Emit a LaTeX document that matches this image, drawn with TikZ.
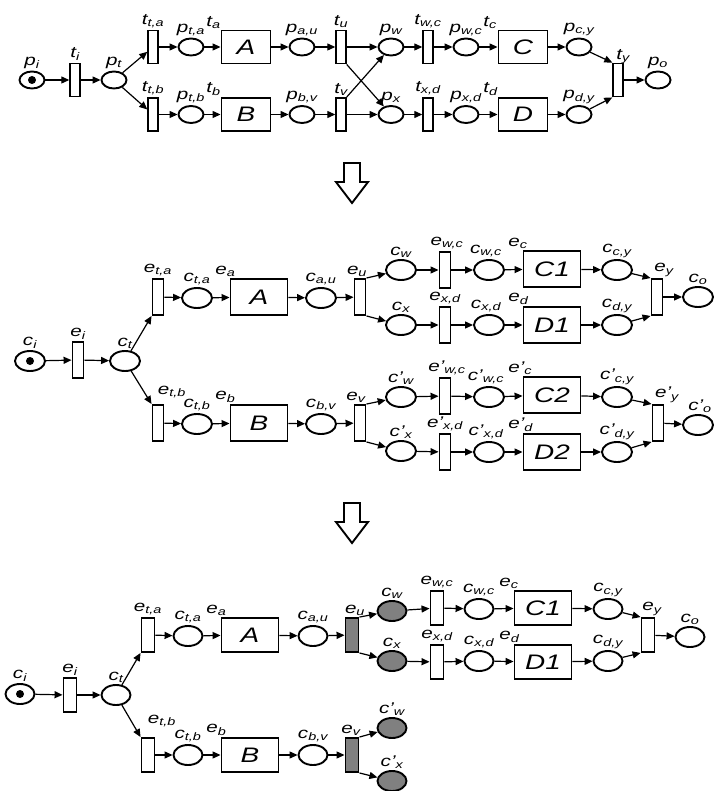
\documentclass[tikz,border=0pt]{standalone}
\usepackage{fontspec}
\setmainfont{Liberation Sans}[FakeStretch=1.33]
\usepackage{tikz}
\usetikzlibrary{arrows.meta, shapes.geometric}

\newcommand{\nm}[2]{#1\textsubscript{#2}}

\tikzset{
    place/.style={draw, ellipse, line width=1.9pt, inner sep=0pt,
        minimum width=25pt, minimum height=17pt},
    trans/.style={draw, rectangle, line width=1.9pt, inner sep=0pt,
        minimum width=9.5pt, minimum height=33pt},
    task/.style={draw, rectangle, line width=1.9pt, inner sep=0pt,
        minimum width=49pt, minimum height=33pt,
        font=\fontsize{21}{21}\selectfont\itshape},
    fired/.style={fill=gray},
    token/.style={path picture={\fill (path picture bounding box.center) circle[radius=4pt];}},
    tlabel/.style={label={[anchor=south west, xshift=-14pt]north west:#1}},
    every label/.style={font=\fontsize{15.5}{15.5}\selectfont\itshape, inner sep=0.5pt},
    arc/.style={->, line width=1.2pt},
}

\begin{document}
\begin{tikzpicture}[x=1pt, y=-1pt, label distance=1pt, >={Triangle[length=8pt,width=7pt]}]
    \useasboundingbox (0,0) rectangle (713,791);

    % First net
    \node[place, token, label={above:\nm{p}{i}}] (pi) at (32,80) {};
    \node[trans, label={above:\nm{t}{i}}] (ti) at (75,80) {};
    \node[place, label={above:\nm{p}{t}}] (pt) at (114,80) {};
    \node[trans, label={above:\nm{t}{t,a}}] (tta) at (153,47) {};
    \node[place, label={above:\nm{p}{t,a}}] (pta) at (191,47) {};
    \node[task, tlabel={\nm{t}{a}}] (ta) at (246,47) {A};
    \node[place, label={above:\nm{p}{a,u}}] (pau) at (302,47) {};
    \node[trans, label={above:\nm{t}{u}}] (tu) at (341,47) {};
    \node[place, label={above:\nm{p}{w}}] (pw) at (391,47) {};
    \node[trans, label={above:\nm{t}{w,c}}] (twc) at (428,47) {};
    \node[place, label={above:\nm{p}{w,c}}] (pwc) at (466,47) {};
    \node[task, tlabel={\nm{t}{c}}] (tc) at (523,47) {C};
    \node[place, label={above:\nm{p}{c,y}}] (pcy) at (579,47) {};
    \node[trans, label={[xshift=5pt, yshift=-3pt]above:\nm{t}{y}}] (ty) at (618,80) {};
    \node[place, label={above:\nm{p}{o}}] (po) at (658,80) {};

    \node[trans, label={above:\nm{t}{t,b}}] (ttb) at (153,114.5) {};
    \node[place, label={above:\nm{p}{t,b}}] (ptb) at (191,114.5) {};
    \node[task, tlabel={\nm{t}{b}}] (tb) at (246,114.5) {B};
    \node[place, label={above:\nm{p}{b,v}}] (pbv) at (302,114.5) {};
    \node[trans, label={above:\nm{t}{v}}] (tv) at (341,114.5) {};
    \node[place, label={above:\nm{p}{x}}] (px) at (391,114.5) {};
    \node[trans, label={above:\nm{t}{x,d}}] (txd) at (428,114.5) {};
    \node[place, label={above:\nm{p}{x,d}}] (pxd) at (466,114.5) {};
    \node[task, tlabel={\nm{t}{d}}] (td) at (523,114.5) {D};
    \node[place, label={above:\nm{p}{d,y}}] (pdy) at (579,114.5) {};

    \foreach \a/\b in {pi/ti, ti/pt, pt/tta, pt/ttb, tta/pta, pta/ta, ta/pau, pau/tu,
            tu/pw, tu.south east/px, tv.north east/pw, tv/px, pw/twc, twc/pwc, pwc/tc,
            tc/pcy, pcy/ty.north west, ty/po, ttb/ptb, ptb/tb, tb/pbv, pbv/tv,
            px/txd, txd/pxd, pxd/td, td/pdy, pdy/ty.south west}
        \draw[arc] (\a) -- (\b);

    % Hollow arrows between the nets
    \foreach \y in {163,503}
        \draw[line width=1.9pt] (344,\y) -- ++(16,0) -- ++(0,19) -- ++(8,0)
            -- ++(-16,21) -- ++(-16,-21) -- ++(8,0) -- cycle;

    % Second net (unfolded)
    \begin{scope}[name prefix=n2-,
            place/.append style={minimum width=30pt, minimum height=20pt},
            trans/.append style={minimum width=11pt, minimum height=36pt},
            task/.append style={minimum width=57pt, minimum height=36pt}]
        \node[place, token, label={above:\nm{c}{i}}] (ci) at (30,361) {};
        \node[trans, label={above:\nm{e}{i}}] (ei) at (78,360) {};
        \node[place, label={above:\nm{c}{t}}] (ct) at (125,361) {};
        \node[trans, label={above:\nm{e}{t,a}}] (eta) at (158,297) {};
        \node[place, label={above:\nm{c}{t,a}}] (cta) at (197,298) {};
        \node[task, tlabel={\nm{e}{a}}] (ea) at (259,297) {A};
        \node[place, label={above:\nm{c}{a,u}}] (cau) at (321,298) {};
        \node[trans, label={[xshift=-3pt]above:\nm{e}{u}}] (eu) at (360,297) {};
        \node[place, label={above:\nm{c}{w}}] (cw) at (401,270) {};
        \node[trans, label={[xshift=2pt]above:\nm{e}{w,c}}] (ewc) at (445,270) {};
        \node[place, label={[xshift=-3pt]above:\nm{c}{w,c}}] (cwc) at (489,270) {};
        \node[task, tlabel={\nm{e}{c}}] (ec) at (552,269) {C1};
        \node[place, label={above:\nm{c}{c,y}}] (ccy) at (617,270) {};
        \node[trans, label={[xshift=7pt]above:\nm{e}{y}}] (ey) at (657,297) {};
        \node[place, label={above:\nm{c}{o}}] (co) at (698,297) {};
        \node[place, label={above:\nm{c}{x}}] (cx) at (401,325) {};
        \node[trans, label={above:\nm{e}{x,d}}] (exd) at (445,325) {};
        \node[place, label={[xshift=-3pt]above:\nm{c}{x,d}}] (cxd) at (489,325) {};
        \node[task, tlabel={\nm{e}{d}}] (ed) at (552,325) {D1};
        \node[place, label={above:\nm{c}{d,y}}] (cdy) at (617,325) {};

        \node[trans, label={[xshift=14pt, yshift=4pt]above:\nm{e}{t,b}}] (etb) at (158,423) {};
        \node[place, label={above:\nm{c}{t,b}}] (ctb) at (197,424) {};
        \node[task, tlabel={\nm{e}{b}}] (eb) at (259,423) {B};
        \node[place, label={above:\nm{c}{b,v}}] (cbv) at (321,424) {};
        \node[trans, label={[xshift=-4pt]above:\nm{e}{v}}] (ev) at (360,423) {};
        \node[place, label={above:\nm{c'}{w}}] (cw2) at (401,397) {};
        \node[trans, label={[xshift=2pt]above:\nm{e'}{w,c}}] (ewc2) at (445,396) {};
        \node[place, label={[xshift=-3pt]above:\nm{c'}{w,c}}] (cwc2) at (489,397) {};
        \node[task, tlabel={\nm{e'}{c}}] (ec2) at (552,395) {C2};
        \node[place, label={above:\nm{c'}{c,y}}] (ccy2) at (617,397) {};
        \node[trans, label={[xshift=9pt]above:\nm{e'}{y}}] (ey2) at (658,423) {};
        \node[place, label={[xshift=2pt]above:\nm{c'}{o}}] (co2) at (698,425) {};
        \node[place, label={above:\nm{c'}{x}}] (cx2) at (401,451) {};
        \node[trans, label={above:\nm{e'}{x,d}}] (exd2) at (445,452) {};
        \node[place, label={[xshift=-3pt]above:\nm{c'}{x,d}}] (cxd2) at (489,452) {};
        \node[task, tlabel={\nm{e'}{d}}] (ed2) at (552,452) {D2};
        \node[place, label={above:\nm{c'}{d,y}}] (cdy2) at (617,452) {};

        \foreach \a/\b in {ci/ei, ei/ct, ct/eta.south west, ct/etb.north west,
                eta/cta, cta/ea, ea/cau, cau/eu, eu.north east/cw, eu.south east/cx,
                cw/ewc, ewc/cwc, cwc/ec, ec/ccy, ccy/ey.north west, ey/co,
                cx/exd, exd/cxd, cxd/ed, ed/cdy, cdy/ey.south west,
                etb/ctb, ctb/eb, eb/cbv, cbv/ev, ev.north east/cw2, ev.south east/cx2,
                cw2/ewc2, ewc2/cwc2, cwc2/ec2, ec2/ccy2, ccy2/ey2.north west, ey2/co2,
                cx2/exd2, exd2/cxd2, cxd2/ed2, ed2/cdy2, cdy2/ey2.south west}
            \draw[arc] (\a) -- (\b);
    \end{scope}

    % Third net (after the choice)
    \begin{scope}[name prefix=n3-,
            place/.append style={minimum width=29pt, minimum height=20pt},
            trans/.append style={minimum width=13pt, minimum height=34pt},
            task/.append style={minimum width=57pt, minimum height=34pt}]
        \node[place, token, label={above:\nm{c}{i}}] (ci) at (20,694) {};
        \node[trans, label={above:\nm{e}{i}}] (ei) at (70,695) {};
        \node[place, label={above:\nm{c}{t}}] (ct) at (116,695) {};
        \node[trans, label={above:\nm{e}{t,a}}] (eta) at (148,635) {};
        \node[place, label={above:\nm{c}{t,a}}] (cta) at (188,636) {};
        \node[task, tlabel={\nm{e}{a}}] (ea) at (250,635) {A};
        \node[place, label={above:\nm{c}{a,u}}] (cau) at (313,636) {};
        \node[trans, fired, label={[xshift=3pt]above:\nm{e}{u}}] (eu) at (352,635) {};
        \node[place, fired, label={above:\nm{c}{w}}] (cw) at (392,611) {};
        \node[trans, label={above:\nm{e}{w,c}}] (ewc) at (437,608) {};
        \node[place, label={above:\nm{c}{w,c}}] (cwc) at (479,609) {};
        \node[task, tlabel={\nm{e}{c}}] (ec) at (543,608) {C1};
        \node[place, label={above:\nm{c}{c,y}}] (ccy) at (608,609) {};
        \node[trans, label={[xshift=4pt]above:\nm{e}{y}}] (ey) at (648,635) {};
        \node[place, label={above:\nm{c}{o}}] (co) at (690,637) {};
        \node[place, fired, label={above:\nm{c}{x}}] (cx) at (392,661) {};
        \node[trans, label={above:\nm{e}{x,d}}] (exd) at (437,662) {};
        \node[place, label={above:\nm{c}{x,d}}] (cxd) at (479,661) {};
        \node[task, tlabel={\nm{e}{d}}] (ed) at (543,662) {D1};
        \node[place, label={above:\nm{c}{d,y}}] (cdy) at (608,661) {};

        \node[trans, label={[xshift=14pt, yshift=8pt]above:\nm{e}{t,b}}] (etb) at (148,755) {};
        \node[place, label={above:\nm{c}{t,b}}] (ctb) at (188,755) {};
        \node[task, tlabel={\nm{e}{b}}] (eb) at (250,755) {B};
        \node[place, label={above:\nm{c}{b,v}}] (cbv) at (313,755) {};
        \node[trans, fired, label={[xshift=-1pt]above:\nm{e}{v}}] (ev) at (352,755) {};
        \node[place, fired, label={above:\nm{c'}{w}}] (cw2) at (392,728) {};
        \node[place, fired, label={above:\nm{c'}{x}}] (cx2) at (392,781) {};

        \foreach \a/\b in {ci/ei, ei/ct, ct/eta.south west, ct/etb.north west,
                eta/cta, cta/ea, ea/cau, cau/eu, eu.north east/cw, eu.south east/cx,
                cw/ewc, ewc/cwc, cwc/ec, ec/ccy, ccy/ey.north west, ey/co,
                cx/exd, exd/cxd, cxd/ed, ed/cdy, cdy/ey.south west,
                etb/ctb, ctb/eb, eb/cbv, cbv/ev, ev.north east/cw2, ev.south east/cx2}
            \draw[arc] (\a) -- (\b);
    \end{scope}
\end{tikzpicture}
\end{document}
